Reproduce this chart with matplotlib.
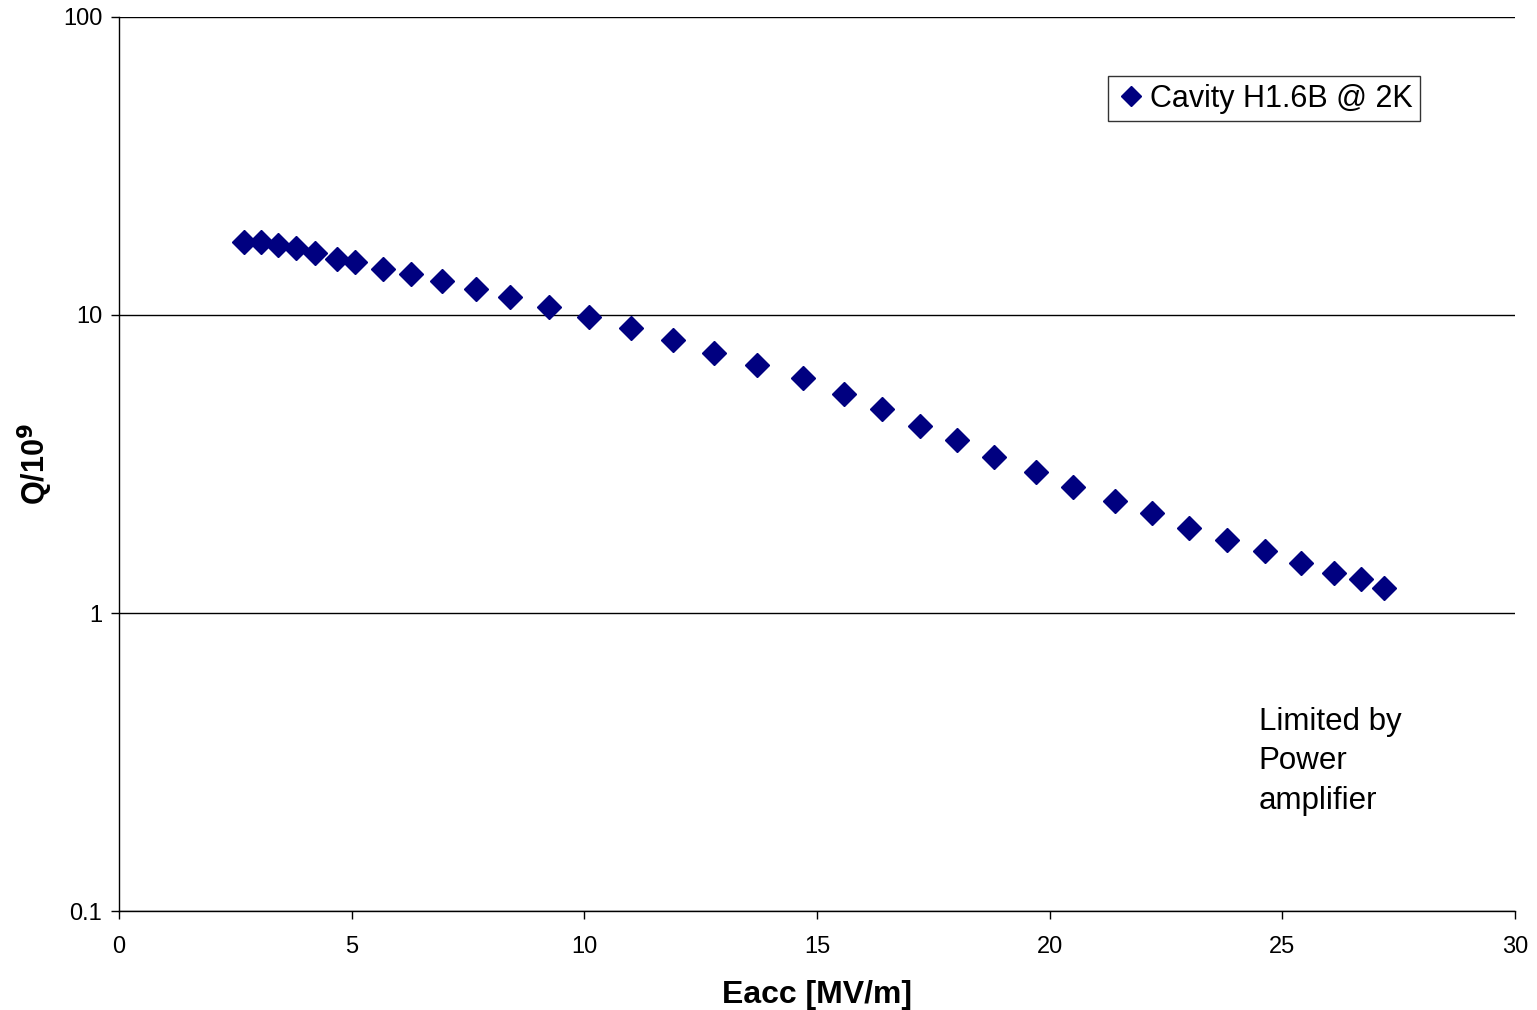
import matplotlib.pyplot as plt
from matplotlib.ticker import FixedLocator, NullLocator

# Q vs accelerating gradient
eacc = [2.69, 3.05, 3.42, 3.80, 4.21, 4.69, 5.07, 5.67, 6.28, 6.94,
        7.67, 8.40, 9.24, 10.10, 11.00, 11.91, 12.79, 13.71, 14.70, 15.58,
        16.40, 17.21, 18.01, 18.81, 19.71, 20.50, 21.41, 22.20, 23.00, 23.81,
        24.63, 25.40, 26.11, 26.69, 27.19]
q_e9 = [17.6, 17.6, 17.2, 16.8, 16.1, 15.4, 15.1, 14.3, 13.7, 13.0,
        12.2, 11.5, 10.6, 9.85, 9.04, 8.24, 7.45, 6.79, 6.15, 5.44,
        4.84, 4.25, 3.81, 3.34, 2.97, 2.65, 2.38, 2.17, 1.93, 1.76,
        1.61, 1.47, 1.36, 1.30, 1.21]

x_ticks = [0, 5, 10, 15, 20, 25, 30]
y_ticks = [0.1, 1, 10, 100]
y_tick_labels = ["0.1", "1", "10", "100"]

SERIES_LABEL = "Cavity H1.6B @ 2K"
NOTE = "Limited by\nPower\namplifier"
MARKER_COLOR = "#000080"

plt.rcParams["font.family"] = ["Liberation Sans", "DejaVu Sans"]

fig = plt.figure(figsize=(15.37, 10.10), dpi=100)
ax = fig.add_axes([0.0774, 0.098, 0.9083, 0.8852])

ax.plot(eacc, q_e9, linestyle="none", marker="D", markersize=12,
        color=MARKER_COLOR, label=SERIES_LABEL)

ax.set_yscale("log")
ax.set_xlim(0, 30)
ax.set_ylim(0.1, 100)
ax.xaxis.set_major_locator(FixedLocator(x_ticks))
ax.yaxis.set_major_locator(FixedLocator(y_ticks))
ax.yaxis.set_minor_locator(NullLocator())
ax.set_yticklabels(y_tick_labels)
ax.set_xticklabels([str(t) for t in x_ticks])

ax.grid(axis="y", color="black", linewidth=1)
ax.set_axisbelow(True)
for side in ("top", "right"):
    ax.spines[side].set_visible(False)
ax.spines["left"].set_linewidth(1)
ax.spines["bottom"].set_linewidth(1)
ax.tick_params(direction="out", length=6, width=1, labelsize=17)
ax.tick_params(axis="x", pad=12)
ax.tick_params(axis="y", pad=6)

ax.set_xlabel("Eacc [MV/m]", fontsize=23, fontweight="bold", labelpad=16)
ax.set_ylabel("Q/10$^{\\mathbf{9}}$", fontsize=22, fontweight="bold", labelpad=6)

leg = ax.legend(loc="upper right", bbox_to_anchor=(0.932, 0.934), fontsize=22,
                frameon=True, fancybox=False, handletextpad=0.1,
                handlelength=1.0, borderpad=0.25, borderaxespad=0,
                markerscale=0.85)
leg.get_frame().set_edgecolor("black")
leg.get_frame().set_linewidth(1)

ax.text(0.8165, 0.228, NOTE, transform=ax.transAxes, fontsize=22.5,
        ha="left", va="top", linespacing=1.4)

fig.savefig("out.png", dpi=100, facecolor="white")
